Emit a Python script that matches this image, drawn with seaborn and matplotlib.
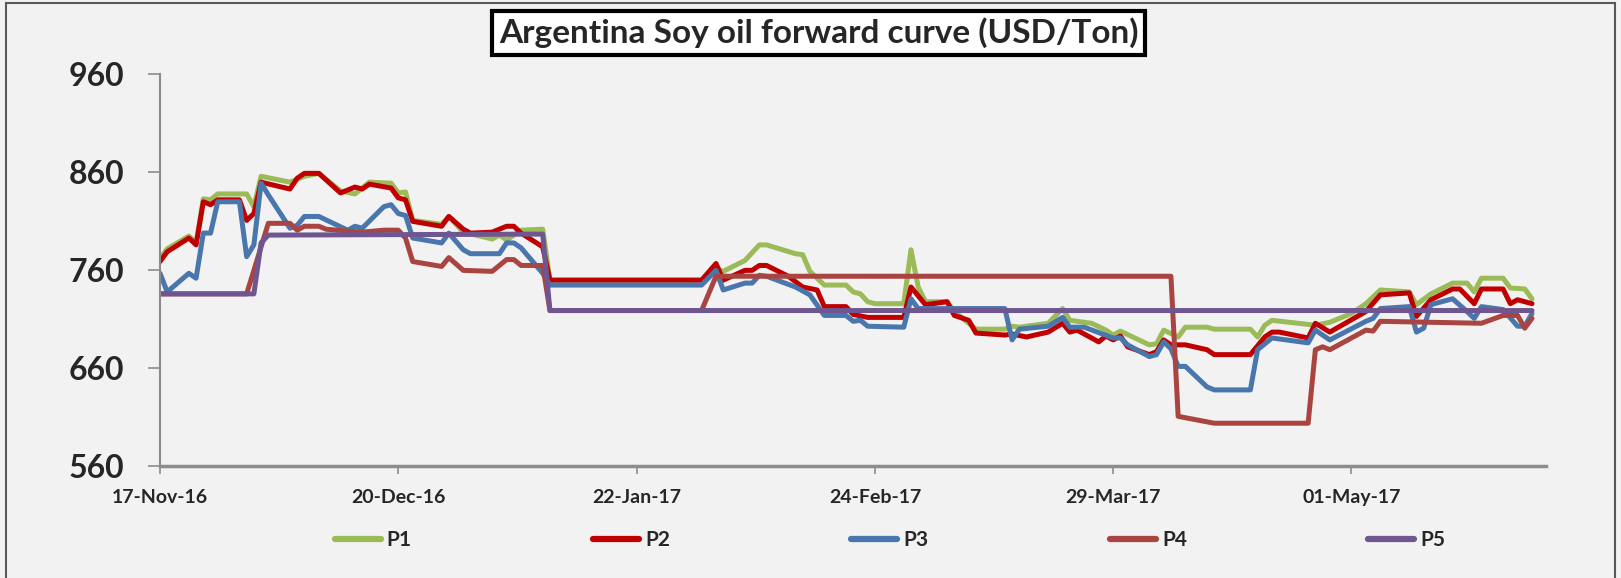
import pandas as pd
import numpy as np
import matplotlib.pyplot as plt
import matplotlib.dates as mdates
from matplotlib.patches import Rectangle
import seaborn as sns

# ==========================================
# Data (day offsets from 17-Nov-16)
# ==========================================
START = "2016-11-17"

p1_days = [0, 1, 4, 5, 6, 7, 8, 12, 13, 14, 18, 20, 22, 25, 27, 29, 32, 33, 34, 35,
           39, 40, 42, 46, 47, 48, 50, 53, 54, 75, 77, 78, 81, 83, 84, 88, 89, 90, 92,
           95, 96, 97, 98, 99, 103, 104, 105, 106, 109, 110, 113, 117, 118, 119, 123,
           125, 126, 129, 131, 132, 133, 137, 138, 139, 141, 142, 145, 146, 151, 152,
           153, 154, 160, 162, 165, 167, 169, 173, 174, 176, 179, 181, 182, 183, 186,
           187, 189, 190]
p1_vals = [772, 782, 795, 788, 833, 832, 838, 838, 825, 856, 850, 856, 859, 841, 838,
           850, 849, 839, 840, 811, 807, 815, 799, 792, 796, 791, 801, 802, 750, 750,
           762, 759, 770, 786, 786, 777, 776, 759, 745, 745, 738, 736, 728, 726, 726,
           781, 743, 728, 728, 718, 700, 700, 703, 702, 706, 721, 709, 706, 699, 694,
           698, 684, 685, 699, 692, 702, 702, 700, 700, 692, 704, 709, 704, 707, 716,
           726, 740, 738, 725, 736, 747, 747, 738, 752, 752, 742, 741, 731]

p2_days = [0, 1, 4, 5, 6, 7, 8, 11, 12, 13, 14, 18, 19, 20, 22, 25, 27, 28, 29, 32,
           33, 34, 35, 39, 40, 42, 43, 46, 48, 49, 50, 53, 54, 75, 77, 78, 81, 82, 83,
           84, 87, 89, 91, 92, 95, 96, 98, 103, 104, 106, 109, 110, 112, 113, 117, 118,
           120, 123, 125, 126, 127, 130, 131, 132, 133, 134, 137, 138, 139, 140, 142,
           145, 146, 151, 153, 154, 155, 159, 160, 162, 167, 169, 173, 174, 176, 179,
           180, 182, 183, 186, 187, 188, 190]
p2_vals = [769, 779, 793, 786, 830, 827, 832, 832, 811, 818, 850, 843, 854, 859, 859,
           839, 845, 843, 848, 844, 834, 832, 810, 805, 815, 802, 798, 799, 805, 805,
           798, 784, 750, 750, 767, 750, 760, 760, 765, 765, 754, 743, 740, 723, 723,
           715, 712, 712, 743, 725, 728, 714, 709, 696, 694, 695, 692, 697, 706, 697,
           699, 687, 693, 689, 693, 682, 674, 677, 689, 684, 684, 679, 674, 674, 692,
           697, 697, 691, 706, 697, 718, 735, 737, 713, 730, 741, 741, 726, 741, 741,
           726, 730, 726]

p3_days = [0, 1, 4, 5, 6, 7, 8, 11, 12, 13, 14, 15, 18, 19, 20, 22, 26, 27, 28, 31,
           32, 33, 34, 35, 39, 40, 42, 43, 47, 48, 49, 50, 53, 54, 75, 77, 78, 81, 82,
           83, 84, 88, 90, 92, 95, 96, 97, 98, 103, 104, 105, 117, 118, 119, 123, 125,
           126, 128, 132, 133, 134, 137, 138, 139, 140, 141, 142, 145, 146, 151, 152,
           154, 159, 160, 162, 167, 168, 169, 173, 174, 175, 176, 179, 181, 182, 183,
           186, 188, 189, 190]
p3_vals = [757, 738, 757, 752, 798, 798, 830, 830, 774, 786, 849, 837, 803, 806, 815,
           815, 801, 805, 803, 825, 827, 818, 816, 793, 788, 798, 781, 777, 777, 788,
           788, 783, 757, 745, 745, 760, 740, 747, 747, 755, 754, 743, 735, 714, 714,
           708, 709, 703, 702, 731, 721, 721, 689, 700, 703, 712, 702, 702, 691, 691,
           684, 672, 674, 687, 680, 662, 662, 641, 638, 638, 679, 691, 686, 699, 689,
           708, 711, 721, 723, 697, 701, 725, 731, 718, 711, 723, 720, 703, 703, 716]

p4_days = [0, 12, 15, 18, 19, 20, 22, 23, 26, 28, 31, 33, 34, 35, 39, 40, 42, 46, 48,
           49, 50, 53, 54, 75, 77, 140, 141, 146, 159, 160, 161, 162, 167, 168, 169,
           183, 186, 188, 189, 190]
p4_vals = [736, 736, 808, 808, 801, 805, 805, 802, 800, 799, 801, 801, 793, 769, 764,
           773, 760, 759, 771, 771, 765, 765, 719, 719, 754, 754, 611, 604, 604, 679,
           682, 679, 699, 698, 708, 706, 714, 714, 701, 711]

p5_days = [0, 13, 14, 15, 53, 54, 190]
p5_vals = [736, 736, 788, 796, 797, 719, 719]

series_names = ["P1", "P2", "P3", "P4", "P5"]
series_colors = ["#9BBB59", "#C00000", "#4A76AE", "#A94441", "#6F5690"]

# ==========================================
# Long table for seaborn
# ==========================================
frames = []
for name, days, vals in zip(series_names,
                            [p1_days, p2_days, p3_days, p4_days, p5_days],
                            [p1_vals, p2_vals, p3_vals, p4_vals, p5_vals]):
    frames.append(pd.DataFrame({
        "date": pd.to_datetime(START) + pd.to_timedelta(days, unit="D"),
        "value": vals,
        "series": name,
    }))
df = pd.concat(frames, ignore_index=True)

# ==========================================
# Plot
# ==========================================
sns.set_style("white")
plt.rcParams["font.family"] = ["Lato", "DejaVu Sans"]
plt.rcParams["font.weight"] = "bold"

BG = "#F2F2F2"
fig = plt.figure(figsize=(16.21, 5.78), dpi=100, facecolor=BG)
ax = fig.add_axes([0.0987, 0.1932, 0.8553, 0.6781])
ax.set_facecolor(BG)

sns.lineplot(data=df, x="date", y="value", hue="series",
             palette=dict(zip(series_names, series_colors)),
             linewidth=3.6, estimator=None, ax=ax)

# axes
ax.set_ylim(560, 960)
ax.set_yticks([560, 660, 760, 860, 960])
ax.set_xlim(pd.Timestamp(START), pd.Timestamp(START) + pd.Timedelta(days=192))
ax.set_xticks(pd.date_range(START, periods=6, freq="33D"))
ax.xaxis.set_major_formatter(mdates.DateFormatter("%d-%b-%y"))
ax.set_xlabel("")
ax.set_ylabel("")

for s in ["top", "right"]:
    ax.spines[s].set_visible(False)
ax.spines["left"].set_color("#8C8C8C")
ax.spines["left"].set_linewidth(1.5)
ax.spines["bottom"].set_color("#8C8C8C")
ax.spines["bottom"].set_linewidth(2.5)

ax.tick_params(axis="y", direction="out", length=9, width=1.2, color="#8C8C8C",
               labelsize=23, pad=17, left=True)
ax.tick_params(axis="x", direction="out", length=6, width=1.2, color="#8C8C8C",
               labelsize=14, pad=10, bottom=True)
for lbl in ax.get_xticklabels() + ax.get_yticklabels():
    lbl.set_fontweight("bold")

# legend at bottom
handles, labels = ax.get_legend_handles_labels()
ax.get_legend().remove()
leg = fig.legend(handles, labels, loc="center", bbox_to_anchor=(0.549, 0.066),
                 ncol=5, frameon=False, handlelength=2.2, columnspacing=8.7,
                 handletextpad=0.3, prop={"weight": "bold", "size": 15})
for h in leg.get_lines():
    h.set_linewidth(4.5)

# title in a box
fig.text(0.505, 0.943, "Argentina Soy oil forward curve (USD/Ton)",
         ha="center", va="center", fontsize=24, fontweight="bold",
         bbox=dict(boxstyle="square,pad=0.2", facecolor="white",
                   edgecolor="black", linewidth=3))

# outer border
fig.patches.append(Rectangle((0.004, -0.01), 0.992, 1.004, transform=fig.transFigure,
                             fill=False, edgecolor="#595959", linewidth=1.5))

plt.savefig("out.png", dpi=100, facecolor=BG)
plt.close()
